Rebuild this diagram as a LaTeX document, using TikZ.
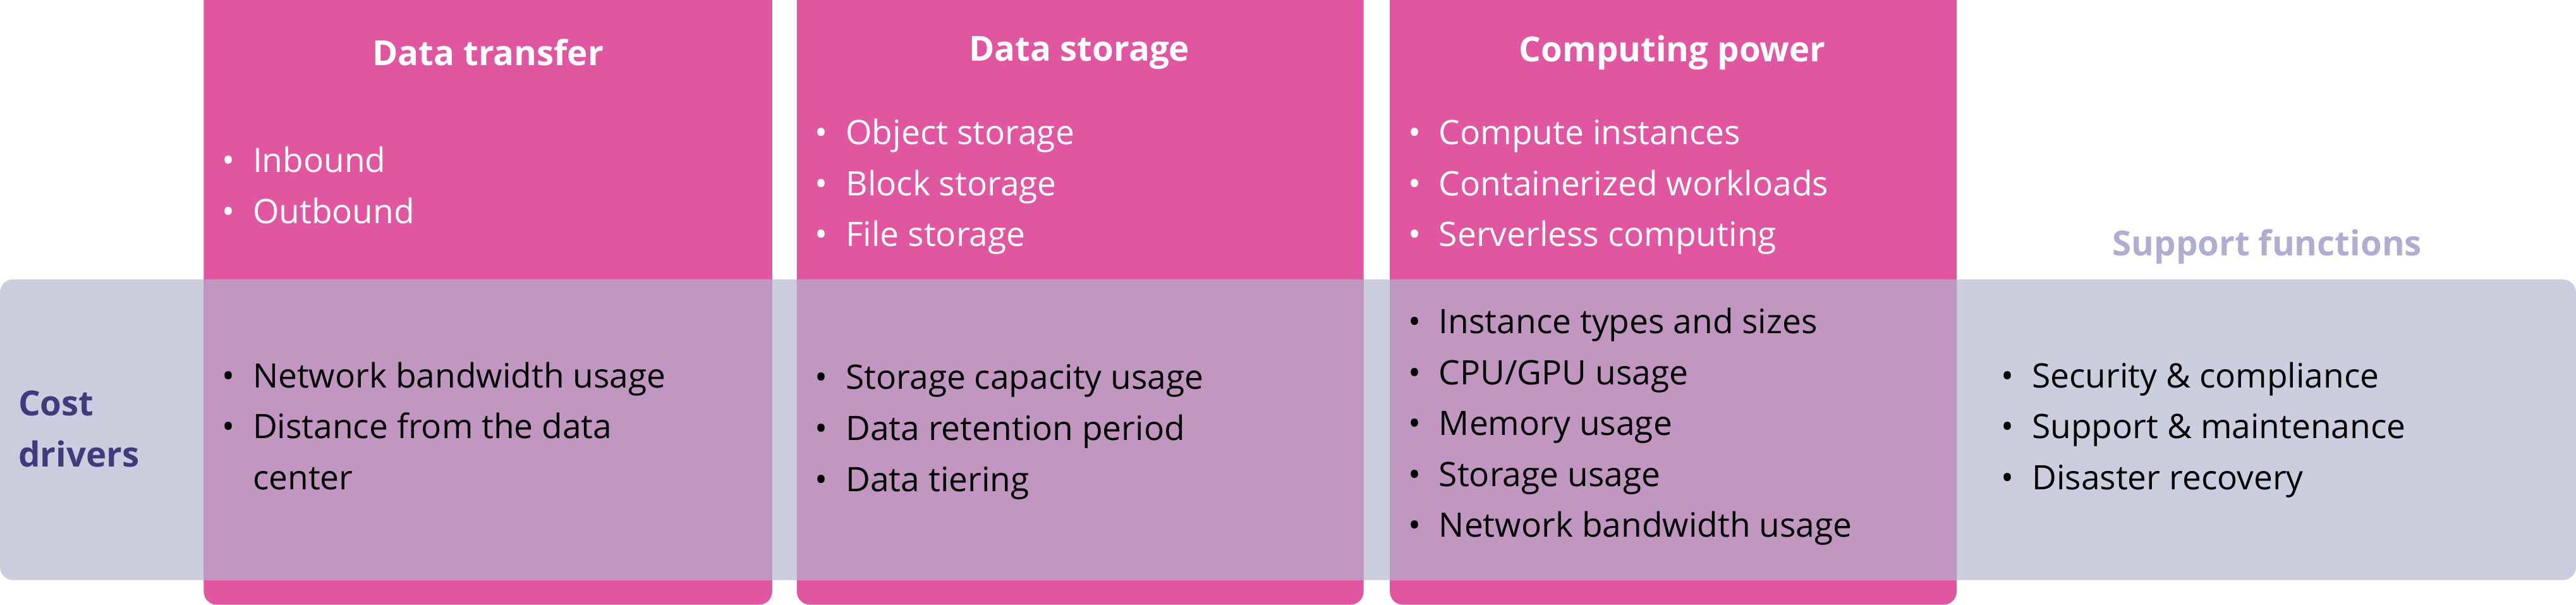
\documentclass[tikz,border=0pt]{standalone}
\usepackage{fontspec}
\setmainfont{Open Sans}
\usepackage{array}
\usetikzlibrary{positioning}
\definecolor{pinkcol}{HTML}{E056A0}
\definecolor{grayband}{HTML}{CDCDE0}
\definecolor{mauve}{HTML}{C197C1}
\definecolor{navytxt}{HTML}{3F3C7E}
\definecolor{lighttxt}{HTML}{B0AED0}
\newcommand{\bl}[1]{\renewcommand\arraystretch{1}\begin{tabular}{@{}l@{\hspace{11pt}}l@{}}#1\end{tabular}}
\tikzset{
  column/.style={fill=pinkcol,rounded corners=8pt},
  overlap/.style={fill=mauve},
  items/.style={anchor=north west,inner sep=0pt,font=\fontsize{20.5}{31}\selectfont,text=#1},
  items/.default=white,
  head/.style={font=\fontsize{21}{26}\selectfont\bfseries,text=white}
}
\begin{document}
\begin{tikzpicture}[x=1pt,y=-1pt]
\useasboundingbox (0,0) rectangle (1568,368);
% band
\fill[grayband,rounded corners=8pt] (0,170) rectangle (1568,353);
% columns
\foreach \xa/\xb in {124/470,485/830,846/1191}{
  \fill[column] (\xa,-20) rectangle (\xb,368);
  \fill[overlap] (\xa,170) rectangle (\xb,353);
}
% headings
\node[head] (h1) at (297,32) {Data transfer};
\node[head] (h2) at (657,32) {Data storage};
\node[head] (h3) at (1018,32) {Computing power};
\node[font=\fontsize{21}{26}\selectfont\bfseries,text=lighttxt] (h4) at (1380,150) {Support functions};
\node[font=\fontsize{21}{31}\selectfont\bfseries,text=navytxt,align=left] (cd) at (48,261) {Cost\\drivers};
% upper lists
\node[items] (u1) at (135,83) {\bl{•&Inbound\\•&Outbound}};
\node[items] (u2) at (496,66) {\bl{•&Object storage\\•&Block storage\\•&File storage}};
\node[items] (u3) at (857,66) {\bl{•&Compute instances\\•&Containerized workloads\\•&Serverless computing}};
% lower lists
\node[items=black] (l1) at (135,214) {\bl{•&Network bandwidth usage\\•&Distance from the data\\&center}};
\node[items=black] (l2) at (496,215) {\bl{•&Storage capacity usage\\•&Data retention period\\•&Data tiering}};
\node[items=black] (l3) at (857,181) {\bl{•&Instance types and sizes\\•&CPU/GPU usage\\•&Memory usage\\•&Storage usage\\•&Network bandwidth usage}};
\node[items=black] (l4) at (1218,214) {\bl{•&Security \& compliance\\•&Support \& maintenance\\•&Disaster recovery}};
\end{tikzpicture}
\end{document}
